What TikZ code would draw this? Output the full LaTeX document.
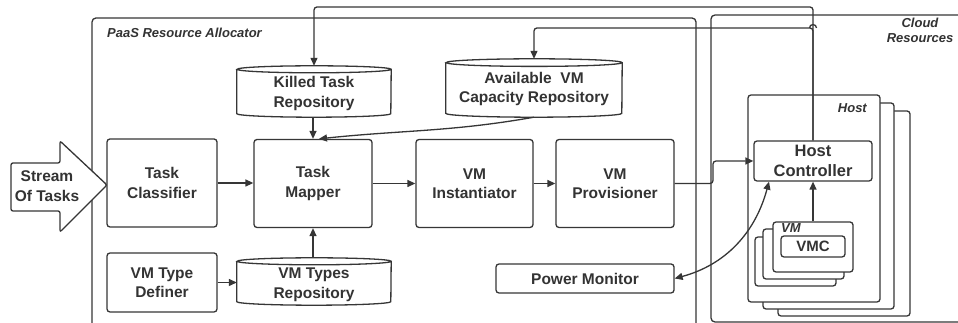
\documentclass[tikz,border=0pt]{standalone}
\usepackage{fontspec}
\setmainfont{Liberation Sans}
\usetikzlibrary{arrows.meta}
\definecolor{ink}{HTML}{363636}
\definecolor{txt}{HTML}{333333}
\tikzset{
  ln/.style={draw=ink, line width=1.3pt},
  box/.style={ln, rounded corners=3pt, fill=white, inner sep=0pt, align=center,
    font=\fontsize{15.5}{19.5}\selectfont\bfseries, text=txt},
  cylnode/.style={inner sep=0pt, align=center,
    font=\fontsize{15.5}{19.5}\selectfont\bfseries, text=txt},
  tip/.tip={Triangle[length=8pt,width=7pt]},
  arr/.style={ln, -tip},
  lbl/.style={font=\fontsize{13}{15}\selectfont\bfseries\itshape, text=txt, inner sep=0pt},
  stackbox/.style={ln, rounded corners=3pt, fill=white},
}
% #1 node name, #2 x radius, #3 y radius
\newcommand\drawcyl[3]{%
  \draw[ln, fill=white]
    ([yshift=-#3]#1.north west) -- ([yshift=#3]#1.south west)
    arc[start angle=180, end angle=360, x radius=#2, y radius=#3]
    -- ([yshift=-#3]#1.north east)
    arc[start angle=0, end angle=180, x radius=#2, y radius=#3]
    arc[start angle=180, end angle=360, x radius=#2, y radius=#3];
}
\begin{document}
\begin{tikzpicture}[x=1pt,y=1pt]
\useasboundingbox (0,0) rectangle (958,323);
\clip (0,0) rectangle (958,323);
\fill[white] (0,0) rectangle (958,323);

% containers
\draw[ln, rounded corners=4pt] (92,-20) rectangle (696,305);
\draw[ln, rounded corners=4pt] (711,1) rectangle (990,308);
\node[lbl, anchor=west] (paas) at (107,290) {PaaS Resource Allocator};
\node[lbl, align=center] (cloud) at (920,292.5) {Cloud\\Resources};

% stream of tasks arrow
\draw[ln, fill=white, rounded corners=2pt] (11,160) -- (60,160) -- (60,182) -- (107,138) -- (60,91) -- (60,112) -- (11,112) -- cycle;
\node[cylnode] (stream) at (47,137) {Stream\\Of Tasks};

% main boxes
\node[box, minimum width=110pt, minimum height=88pt] (tc) at (162,140) {Task\\Classifier};
\node[box, minimum width=118pt, minimum height=88pt] (tm) at (313,139.5) {Task\\Mapper};
\node[box, minimum width=117pt, minimum height=88pt] (vi) at (474.5,139.5) {VM\\Instantiator};
\node[box, minimum width=118pt, minimum height=88pt] (vp) at (615,139.5) {VM\\Provisioner};
\node[box, minimum width=110pt, minimum height=59pt] (vtd) at (162,40.5) {VM Type\\Definer};
\node[box, minimum width=178pt, minimum height=29pt] (pm) at (585,44.5) {Power Monitor};

% cylinders
\node[cylnode, minimum width=154pt, minimum height=51pt] (ktr) at (314,231.5) {};
\drawcyl{ktr}{77pt}{3.5pt}
\node[cylnode] (ktrt) at (314,229.5) {Killed Task\\Repository};
\node[cylnode, minimum width=176pt, minimum height=58pt] (avail) at (534,235) {};
\drawcyl{avail}{88pt}{3.8pt}
\node[cylnode] (availt) at (534,234) {Available\ \ VM\\Capacity Repository};
\node[cylnode, minimum width=154pt, minimum height=47pt] (vtr) at (314,41.5) {};
\drawcyl{vtr}{77pt}{3.5pt}
\node[cylnode] (vtrt) at (314,38) {VM Types\\Repository};

% host stack
\draw[stackbox] (778,7) rectangle (910,212);
\draw[stackbox] (763,14) rectangle (894,220);
\node[stackbox, minimum width=132pt, minimum height=207pt, inner sep=0pt] (host) at (814,124.5) {};
\node[lbl, anchor=east] (hostl) at (867,215) {Host};
\node[box, minimum width=118pt, minimum height=40pt, font=\fontsize{16.5}{20}\selectfont\bfseries] (hc) at (813,162) {Host\\Controller};

% VM stack
\draw[stackbox] (755,37) rectangle (836,86);
\draw[stackbox] (763,44) rectangle (844,94);
\node[stackbox, minimum width=80pt, minimum height=50pt, inner sep=0pt] (vm) at (813,76) {};
\node[lbl, anchor=west] (vml) at (781,95) {VM};
\node[box, minimum width=64pt, minimum height=21pt, font=\fontsize{15}{18}\selectfont\bfseries] (vmc) at (813,76.5) {VMC};

% connectors
\draw[arr] (tc.east) -- (tc.east -| tm.west);
\draw[arr] (tm.east) -- (vi.west);
\draw[arr] (vi.east) -- (vp.west);
\draw[arr] (vtd.east) -- (vtd.east -| vtr.west);
\draw[arr] (vtr.north -| tm.south) -- (tm.south);
\draw[arr] (ktr.south -| tm.north) -- (tm.north);
\draw[arr] (avail.south) to[out=190,in=6] ([xshift=6pt]tm.north);

\coordinate (topA) at (813,316);
\coordinate (topB) at (813,295);
\draw[arr, rounded corners=3pt] (hc.north) -- (topA) -- (ktr.north |- topA) -- (ktr.north);
\draw[arr, rounded corners=3pt] (hc.north) -- (topB) -- (avail.north |- topB) -- (avail.north);
\draw[ln] (809.5,295) arc[start angle=180, end angle=0, radius=3.5pt];

\coordinate (bend) at (713,0);
\draw[arr, rounded corners=3pt] (vp.east) -- (vp.east -| bend) -- (bend |- hc.west) -- (hc.west);
\draw[arr] (vm.north) -- (hc.south);
\draw[ln, tip-tip] (pm.east) to[out=15,in=255] ([xshift=-44pt]hc.south);
\end{tikzpicture}
\end{document}
